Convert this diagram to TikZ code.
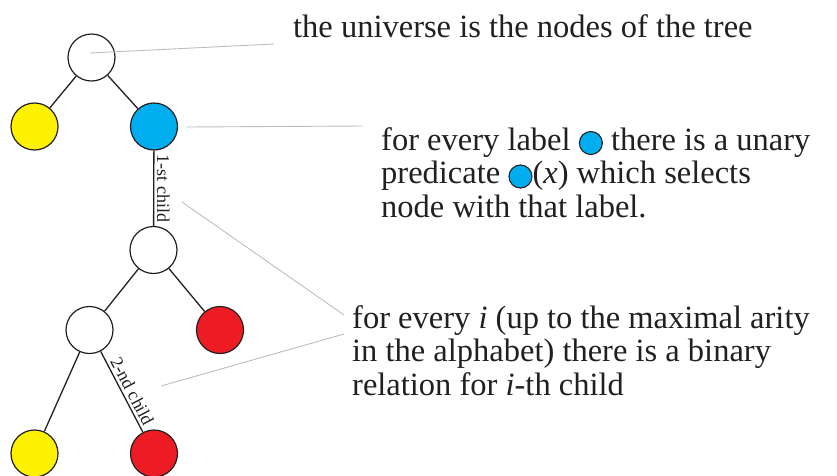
\documentclass[tikz,border=0pt]{standalone}
\usepackage{fontspec}
\setmainfont{Liberation Serif}
\usetikzlibrary{positioning}
\definecolor{lyellow}{HTML}{FFF200}
\definecolor{lblue}{HTML}{00AEEF}
\definecolor{lred}{HTML}{ED1C24}
\definecolor{ink}{HTML}{231F20}
\definecolor{pointgray}{HTML}{BDBDBD}
\newcommand{\bluedot}{\tikz[baseline={(0pt,-7pt)}]\draw[ink,fill=lblue,line width=1.1pt] (0pt,0pt) circle (11.5pt);}

\begin{document}
\begin{tikzpicture}[x=1pt, y=-1pt,
  vertex/.style={circle,draw=ink,line width=1.2pt,minimum size=47pt,inner sep=0pt},
  edge/.style={ink,line width=1.3pt},
  pointer/.style={pointgray,line width=0.9pt},
  note/.style={anchor=base west,inner sep=0pt,text=ink,font=\fontsize{32.5}{33.5}\selectfont},
  tag/.style={font=\fontsize{18}{18}\selectfont,text=ink,inner sep=2.5pt}]
\useasboundingbox (0,0) rectangle (837,475);
% tree
\node[vertex,fill=white] (root) at (91.5,57.5) {};
\node[vertex,fill=lyellow] (y1) at (34.5,126.5) {};
\node[vertex,fill=lblue] (b) at (154,126.5) {};
\node[vertex,fill=white] (w1) at (153.5,250) {};
\node[vertex,fill=white] (w2) at (89.5,330) {};
\node[vertex,fill=lred] (r1) at (220,330) {};
\node[vertex,fill=lyellow] (y2) at (34.5,453.5) {};
\node[vertex,fill=lred] (r2) at (154,453.5) {};
\draw[edge] (root) -- (y1);
\draw[edge] (root) -- (b);
\draw[edge] (b) -- (w1) node[tag,midway,rotate=-90,anchor=south] {1-st child};
\draw[edge] (w1) -- (w2);
\draw[edge] (w1) -- (r1);
\draw[edge] (w2) -- (y2);
\draw[edge] (w2) -- (r2) node[tag,pos=0.55,sloped,above] {2-nd child};
% notes
\node[note] (universe) at (293,37) {the universe is the nodes of the tree};
\node[note] (unary) at (381,150) {\begin{tabular}[t]{@{}l@{}}
  for every label \bluedot\ there is a unary\\
  predicate \bluedot(\textit{x}) which selects\\
  node with that label.\end{tabular}};
\node[note] (binary) at (352,328) {\begin{tabular}[t]{@{}l@{}}
  for every \textit{i} (up to the maximal arity\\
  in the alphabet) there is a binary\\
  relation for \textit{i}-th child\end{tabular}};
% pointers
\coordinate (p1) at (274,44);
\coordinate (p2a) at (186,127);
\coordinate (p2) at (363,126);
\coordinate (p3a) at (182,202);
\coordinate (p4a) at (161,386);
\coordinate (p3) at (344,315);
\coordinate (p4) at (344,334);
\draw[pointer] (90,53) -- (p1);
\draw[pointer] (p2a) -- (p2);
\draw[pointer] (p3a) -- (p3);
\draw[pointer] (p4a) -- (p4);
\end{tikzpicture}
\end{document}
